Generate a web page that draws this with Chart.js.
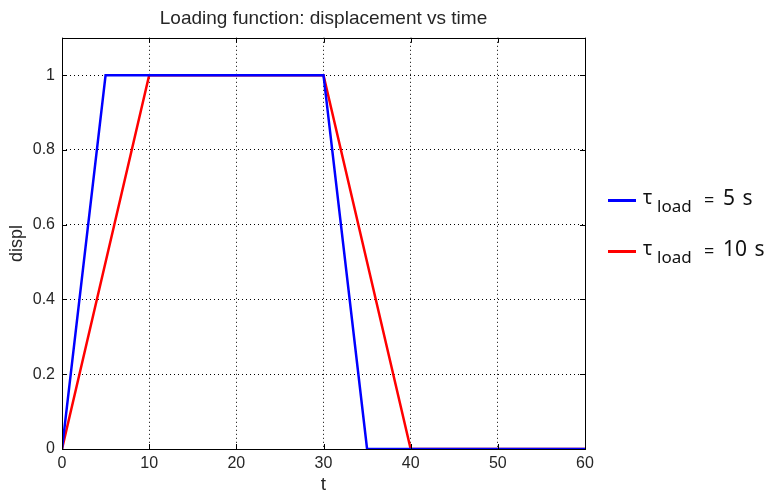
<!DOCTYPE html>
<html>
<head>
<meta charset="utf-8">
<script src="https://cdn.jsdelivr.net/npm/chart.js@4/dist/chart.umd.min.js"></script>
<style>
  html, body { margin: 0; padding: 0; background: #fff; }
  #wrap { position: relative; width: 768px; height: 496px; }
  #legend { position: absolute; left: 0; top: 0; font-family: "Noto Sans", "Open Sans", sans-serif; color: #111; }
  #legend span { position: absolute; line-height: 1; white-space: nowrap; }
  #legend .swatch { width: 28px; height: 3px; }
</style>
</head>
<body>
<div id="wrap">
  <canvas id="loadChart" width="768" height="496"></canvas>
  <div id="legend"></div>
</div>
<script>
// trapezoidal loading ramps
const tBlue = [0, 5, 30, 35, 60];
const dBlue = [0, 1, 1, 0, 0];
const tRed  = [0, 10, 30, 40, 60];
const dRed  = [0, 1, 1, 0, 0];
const loadTimes = ['5 s', '10 s'];
const xTicks = [0, 10, 20, 30, 40, 50, 60];
const yTicks = [0, 0.2, 0.4, 0.6, 0.8, 1];

const toPts = (xs, ys) => xs.map((x, i) => ({ x: x, y: ys[i] }));

// box around the axes + short inward tick marks
const boxPlugin = {
    id: 'box',
    afterDraw(chart) {
        const { ctx, chartArea: a, scales } = chart;
        ctx.save();
        ctx.strokeStyle = '#000';
        ctx.lineWidth = 1;
        ctx.beginPath();
        xTicks.forEach(v => {
            const px = Math.round(scales.x.getPixelForValue(v)) + 0.5;
            ctx.moveTo(px, a.bottom); ctx.lineTo(px, a.bottom - 5);
            ctx.moveTo(px, a.top); ctx.lineTo(px, a.top + 5);
        });
        yTicks.forEach(v => {
            const py = Math.round(scales.y.getPixelForValue(v)) + 0.5;
            ctx.moveTo(a.left, py); ctx.lineTo(a.left + 5, py);
            ctx.moveTo(a.right, py); ctx.lineTo(a.right - 5, py);
        });
        ctx.stroke();
        ctx.strokeRect(Math.round(a.left) + 0.5, Math.round(a.top) + 0.5,
            Math.round(a.right - a.left), Math.round(a.bottom - a.top));
        ctx.restore();
    }
};

const family = '"Liberation Sans", Arial, sans-serif';
const tickFont = { family: family, size: 16 };

// blue first so it is drawn on top
const chart = new Chart(document.getElementById('loadChart'), {
    type: 'line',
    data: {
        datasets: [
            {
                label: 'τ load = ' + loadTimes[0],
                data: toPts(tBlue, dBlue),
                borderColor: '#0000ff',
                borderWidth: 2.5,
                pointRadius: 0,
                tension: 0
            },
            {
                label: 'τ load = ' + loadTimes[1],
                data: toPts(tRed, dRed),
                borderColor: '#ff0000',
                borderWidth: 2.5,
                pointRadius: 0,
                tension: 0
            }
        ]
    },
    options: {
        responsive: false,
        animation: false,
        layout: { padding: { left: 0, right: 183, top: 0, bottom: 0 } },
        plugins: {
            legend: { display: false },
            tooltip: { enabled: false },
            title: {
                display: true,
                fullSize: false,
                text: 'Loading function: displacement vs time',
                color: '#262626',
                font: { family: family, size: 19, weight: 'normal' },
                padding: { top: 7, bottom: 8 }
            }
        },
        scales: {
            x: {
                type: 'linear',
                min: 0,
                max: 60,
                afterFit: s => { s.height = 47; },
                ticks: { stepSize: 10, color: '#262626', font: tickFont, padding: 5, maxRotation: 0 },
                grid: { color: '#000', drawTicks: false },
                border: { display: false, dash: [1, 3] },
                title: { display: true, text: 't', color: '#262626', font: { family: family, size: 19 }, padding: 0 }
            },
            y: {
                min: 0,
                max: 1.1,
                afterFit: s => { s.width = 62; },
                ticks: {
                    stepSize: 0.2, includeBounds: false, color: '#262626', font: tickFont, padding: 7,
                    callback: v => String(Number(v.toFixed(1)))
                },
                grid: { color: '#000', drawTicks: false },
                border: { display: false, dash: [1, 3] },
                title: { display: true, text: 'displ', color: '#262626', font: { family: family, size: 18 }, padding: 6 }
            }
        }
    },
    plugins: [boxPlugin]
});

// legend on the right, one row per dataset: swatch, τ with "load" subscript, value
const legend = document.getElementById('legend');
const span = (cls, text, left, top, size, extra) => {
    const el = document.createElement('span');
    if (cls) el.className = cls;
    el.textContent = text;
    el.style.left = left + 'px';
    el.style.top = top + 'px';
    if (size) el.style.fontSize = size + 'px';
    if (extra) Object.assign(el.style, extra);
    legend.appendChild(el);
    return el;
};
chart.data.datasets.forEach((ds, i) => {
    const dy = i * 51;
    span('swatch', '', 608, 199 + dy, 0, { background: ds.borderColor });
    span('', 'τ', 643, 188 + dy, 19);
    span('', 'load', 657, 197 + dy, 17);
    span('', '=', 704, 190 + dy, 18);
    span('', loadTimes[i], 723, 187 + dy, 21, { wordSpacing: '2px' });
});
</script>
</body>
</html>
